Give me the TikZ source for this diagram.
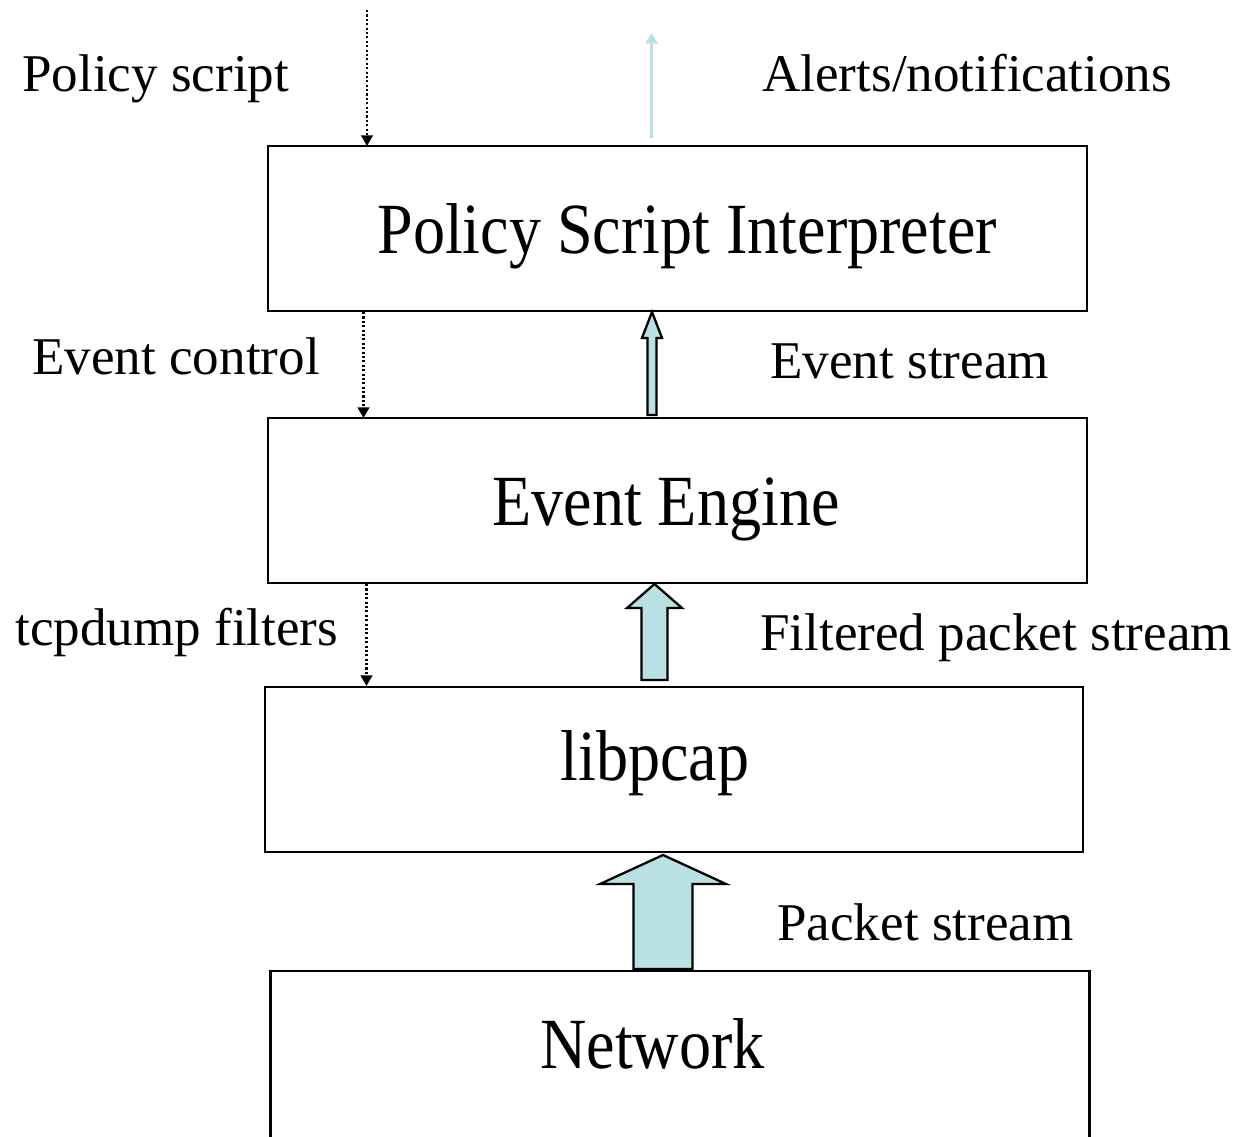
\documentclass[tikz,border=0pt]{standalone}
\usepackage{fontspec}
\setmainfont{Liberation Serif}
\newfontfamily\boxfont[FakeStretch=0.89]{Liberation Serif}
\usetikzlibrary{calc,arrows.meta}

\definecolor{streamblue}{RGB}{185,224,227}

\tikzset{
  layer/.style={draw,line width=1.3pt,minimum width=16.38cm,minimum height=3.3cm,inner sep=0pt},
  lbl/.style={anchor=base west,inner sep=0pt,font=\fontsize{30.2}{34}\selectfont},
  big/.style={anchor=base west,inner sep=0pt,font=\boxfont\fontsize{41}{46}\selectfont},
  ctrl/.style={line width=1.3pt,dash pattern=on 1.2pt off 1.3pt,-{Triangle[length=6pt,width=6.5pt]}},
  fat/.style={draw,line width=1.3pt,fill=streamblue,line join=miter},
}

% block arrow: bottom, tip, half shaft, half head, head length
\newcommand{\fatarrow}[5]{%
  \draw[fat] ($(#1)+(-#3,0)$) -- ($(#2)+(-#3,-#5)$) -- ($(#2)+(-#4,-#5)$) -- (#2)
    -- ($(#2)+(#4,-#5)$) -- ($(#2)+(#3,-#5)$) -- ($(#1)+(#3,0)$) -- cycle;}

\begin{document}
\begin{tikzpicture}
        \useasboundingbox (0,0) rectangle (24.8,-22.72);
        \clip (0,0) rectangle (24.8,-22.72);
        % layers
        \node[layer] (psi) at (13.55,-4.57) {};
        \node[layer] (ee)  at (13.55,-10.01) {};
        \node[layer,minimum width=16.36cm] (pcap) at (13.48,-15.39) {};
        \node[layer,minimum height=3.9cm] (net) at (13.6,-21.37) {};
        \node[big] (psitxt)  at (7.54,-5.06)  {Policy Script Interpreter};
        \node[big] (eetxt)   at (9.84,-10.5)  {Event Engine};
        \node[big] (pcaptxt) at (11.2,-15.6)  {libpcap};
        \node[big] (nettxt)  at (10.8,-21.36) {Network};
        % side labels
        \node[lbl] (script)  at (0.44,-1.84)  {Policy script};
        \node[lbl] (alerts)  at (15.24,-1.84) {Alerts/notifications};
        \node[lbl] (evctl)   at (0.64,-7.48)  {Event control};
        \node[lbl] (evstr)   at (15.4,-7.56)  {Event stream};
        \node[lbl] (tcpf)    at (0.3,-12.9)   {tcpdump filters};
        \node[lbl] (fpstr)   at (15.2,-13.0)  {Filtered packet stream};
        \node[lbl] (pstr)    at (15.54,-18.8) {Packet stream};
        % control flow (down)
        \coordinate (scripttop) at (7.34,-0.2);
        \coordinate (scriptend) at (7.34,-2.92);
        \draw[ctrl] (scripttop) -- (scriptend);
        \coordinate (ctltop) at (7.27,-6.24);
        \coordinate (ctlend) at (7.27,-8.36);
        \draw[ctrl] (ctltop) -- (ctlend);
        \coordinate (flttop) at (7.33,-11.68);
        \coordinate (fltend) at (7.33,-13.72);
        \draw[ctrl] (flttop) -- (fltend);
        % data flow (up)
        \coordinate (alertbot) at (13.03,-2.76);
        \coordinate (alerttop) at (13.03,-0.66);
        \draw[streamblue,line width=1.2pt,-{Triangle[length=6pt,width=7pt]}] (alertbot) -- (alerttop);
        \coordinate (evbot) at (13.04,-8.3);
        \coordinate (evtip) at (13.04,-6.24);
        \fatarrow{evbot}{evtip}{0.09}{0.2}{0.52}
        \coordinate (fpbot) at (13.09,-13.6);
        \coordinate (fptip) at (13.09,-11.68);
        \fatarrow{fpbot}{fptip}{0.26}{0.55}{0.48}
        \coordinate (pbot) at (13.26,-19.38);
        \coordinate (ptip) at (13.26,-17.1);
        \fatarrow{pbot}{ptip}{0.59}{1.26}{0.58}
      \end{tikzpicture}
\end{document}
